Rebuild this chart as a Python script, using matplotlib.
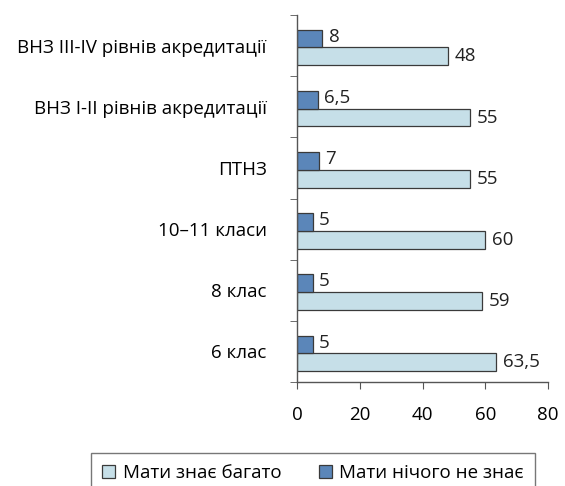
import matplotlib
matplotlib.use("Agg")
import matplotlib.pyplot as plt
import numpy as np

plt.rcParams['font.family'] = ['Open Sans', 'DejaVu Sans']

categories = ["6 клас", "8 клас", "10–11 класи", "ПТНЗ",
              "ВНЗ I-II рівнів акредитації", "ВНЗ III-IV рівнів акредитації"]
knows_much = [63.5, 59, 60, 55, 55, 48]
knows_nothing = [5, 5, 5, 7, 6.5, 8]
knows_much_labels = ["63,5", "59", "60", "55", "55", "48"]
knows_nothing_labels = ["5", "5", "5", "7", "6,5", "8"]
series_names = ["Мати знає багато", "Мати нічого не знає"]

light = '#c6dfe8'
dark = '#5b86b9'
edge = '#3a3a3a'

fig = plt.figure(figsize=(5.65, 4.86), dpi=100)
ax = fig.add_axes([0.526, 0.214, 0.444, 0.755])

y = np.arange(len(categories))
h = 0.29
off = -0.03
b1 = ax.barh(y - h/2 + off, knows_much, height=h, color=light, edgecolor=edge, linewidth=0.9, label=series_names[0])
b2 = ax.barh(y + h/2 + off, knows_nothing, height=h, color=dark, edgecolor=edge, linewidth=0.9, label=series_names[1])

for yi, v, lab in zip(y, knows_much, knows_much_labels):
    ax.text(v + 2.2, yi - h/2 + off, lab, va='center', ha='left', fontsize=13.5, color='#222222')
for yi, v, lab in zip(y, knows_nothing, knows_nothing_labels):
    ax.text(v + 2.0, yi + h/2 + off + 0.03, lab, va='center', ha='left', fontsize=13.5, color='#222222')

ax.set_xlim(0, 80)
ax.set_ylim(-0.5, len(categories) - 0.5)
ax.set_xticks([0, 20, 40, 60, 80])
ax.set_yticks(y)
ax.set_yticklabels(categories, fontsize=13.5)
ax.set_yticks(np.arange(-0.5, len(categories), 1), minor=True)
ax.tick_params(axis='y', which='major', length=0, pad=22)
ax.tick_params(axis='y', which='minor', length=5, direction='out', color='#555555')
ax.tick_params(axis='x', which='major', length=5, direction='out', color='#555555', labelsize=13.5, pad=12)
for s in ['top', 'right']:
    ax.spines[s].set_visible(False)
for s in ['left', 'bottom']:
    ax.spines[s].set_color('#555555')
    ax.spines[s].set_linewidth(1.0)

leg = fig.legend(handles=[b1, b2], labels=series_names, loc='lower center',
                 bbox_to_anchor=(0.554, -0.035), ncol=2, frameon=True, fancybox=False,
                 edgecolor='#555555', fontsize=13.5, handlelength=0.7, handleheight=0.7,
                 columnspacing=2.0, handletextpad=0.4, borderpad=0.6)
leg.get_frame().set_linewidth(1.0)

fig.savefig('out.png', dpi=100)
